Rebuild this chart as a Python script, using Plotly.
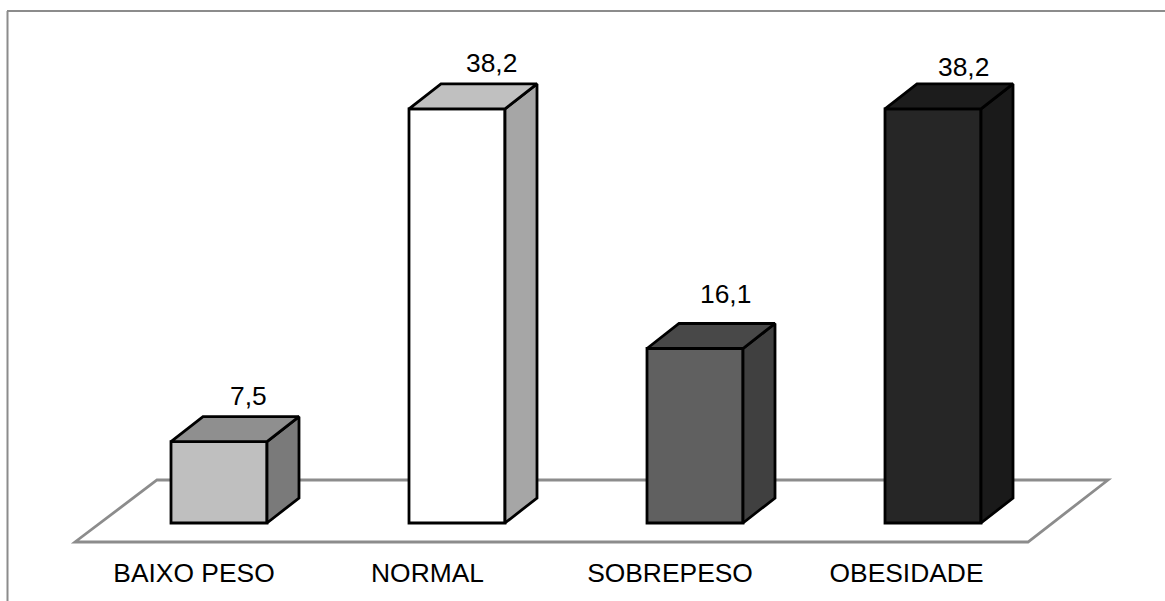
import plotly.graph_objects as go

categories = ["BAIXO PESO", "NORMAL", "SOBREPESO", "OBESIDADE"]
values = [7.5, 38.2, 16.1, 38.2]

# styles
front_colors = ["#bfbfbf", "#ffffff", "#606060", "#262626"]
side_colors = ["#7a7a7a", "#a6a6a6", "#404040", "#1a1a1a"]
top_colors = ["#8f8f8f", "#c0c0c0", "#484848", "#1c1c1c"]
FONT = dict(family="Liberation Sans, Arial, sans-serif", size=26.4, color="#000000")
EDGE_W = 2.8
EDGE = dict(color="#000000", width=EDGE_W)
GREY = "#8c8c8c"

# layout geometry
W, H = 1165, 601
PLOT_BOTTOM = 555
PX_PER_CAT = 238.0
PX_PER_UNIT = 10.84
ORIGIN_X = 219.0   # pixel of category 0 centre
ORIGIN_Y = 523.0   # pixel of value 0
BAR_WIDTH = 96 / PX_PER_CAT
DX = 32 / PX_PER_CAT
DY = 25 / PX_PER_UNIT
label_dx = [29, 34, 30.5, 30]
label_dy = [46, 46, 54, 42]
tick_dx = [-25, -29.5, -25, -26.5]

def xd(px):
    return (px - ORIGIN_X) / PX_PER_CAT

def yd(py):
    return (ORIGIN_Y - py) / PX_PER_UNIT

positions = list(range(len(categories)))
fig = go.Figure()

fig.add_trace(go.Bar(
    x=positions, y=values, width=BAR_WIDTH,
    marker=dict(color=front_colors, line=EDGE),
    showlegend=False, hoverinfo="skip",
))

for p, v, sc, tc in zip(positions, values, side_colors, top_colors):
    l, r = p - BAR_WIDTH / 2, p + BAR_WIDTH / 2
    fig.add_trace(go.Scatter(
        x=[r, r + DX, r + DX, r, r], y=[0, DY, v + DY, v, 0],
        mode="lines", fill="toself", fillcolor=sc,
        line=dict(color="#000000", width=EDGE_W),
        showlegend=False, hoverinfo="skip",
    ))
    fig.add_trace(go.Scatter(
        x=[l, l + DX, r + DX, r, l], y=[v, v + DY, v + DY, v, v],
        mode="lines", fill="toself", fillcolor=tc,
        line=dict(color="#000000", width=EDGE_W),
        showlegend=False, hoverinfo="skip",
    ))

shapes = [
    dict(type="path", layer="below", xref="x", yref="y",
         path=f"M {xd(75)} {yd(542)} L {xd(1028)} {yd(542)} L {xd(1108)} {yd(480)} L {xd(157)} {yd(480)} Z",
         line=dict(color=GREY, width=2.8), fillcolor="rgba(0,0,0,0)"),
    dict(type="line", xref="paper", yref="paper",
         x0=7.5 / W, x1=7.5 / W, y0=(PLOT_BOTTOM - 11) / PLOT_BOTTOM, y1=(PLOT_BOTTOM - H) / PLOT_BOTTOM,
         line=dict(color=GREY, width=2)),
    dict(type="line", xref="paper", yref="paper",
         x0=7 / W, x1=1, y0=(PLOT_BOTTOM - 11) / PLOT_BOTTOM, y1=(PLOT_BOTTOM - 11) / PLOT_BOTTOM,
         line=dict(color=GREY, width=2)),
]

annotations = [
    dict(x=p, y=v, text=f"{v:.1f}".replace(".", ","), xref="x", yref="y",
         xshift=dx, yshift=dy, showarrow=False, font=FONT, xanchor="center", yanchor="middle")
    for p, v, dx, dy in zip(positions, values, label_dx, label_dy)
]

fig.update_layout(
    width=W, height=H, autosize=False,
    margin=dict(l=0, r=0, t=0, b=H - PLOT_BOTTOM, pad=0),
    paper_bgcolor="#ffffff", plot_bgcolor="#ffffff",
    font=FONT, showlegend=False,
    shapes=shapes, annotations=annotations,
    xaxis=dict(
        range=[xd(0), xd(W)], showgrid=False, zeroline=False, showline=False,
        tickmode="array",
        tickvals=[p + d / PX_PER_CAT for p, d in zip(positions, tick_dx)],
        ticktext=categories, ticks="", tickangle=0, tickfont=FONT,
    ),
    yaxis=dict(
        range=[yd(PLOT_BOTTOM), yd(0)], showgrid=False, zeroline=False,
        showline=False, showticklabels=False, ticks="",
    ),
)

fig.write_html("out.html", config={"displayModeBar": False},
               post_script="document.body.style.margin='0';document.documentElement.style.overflow='hidden';")
